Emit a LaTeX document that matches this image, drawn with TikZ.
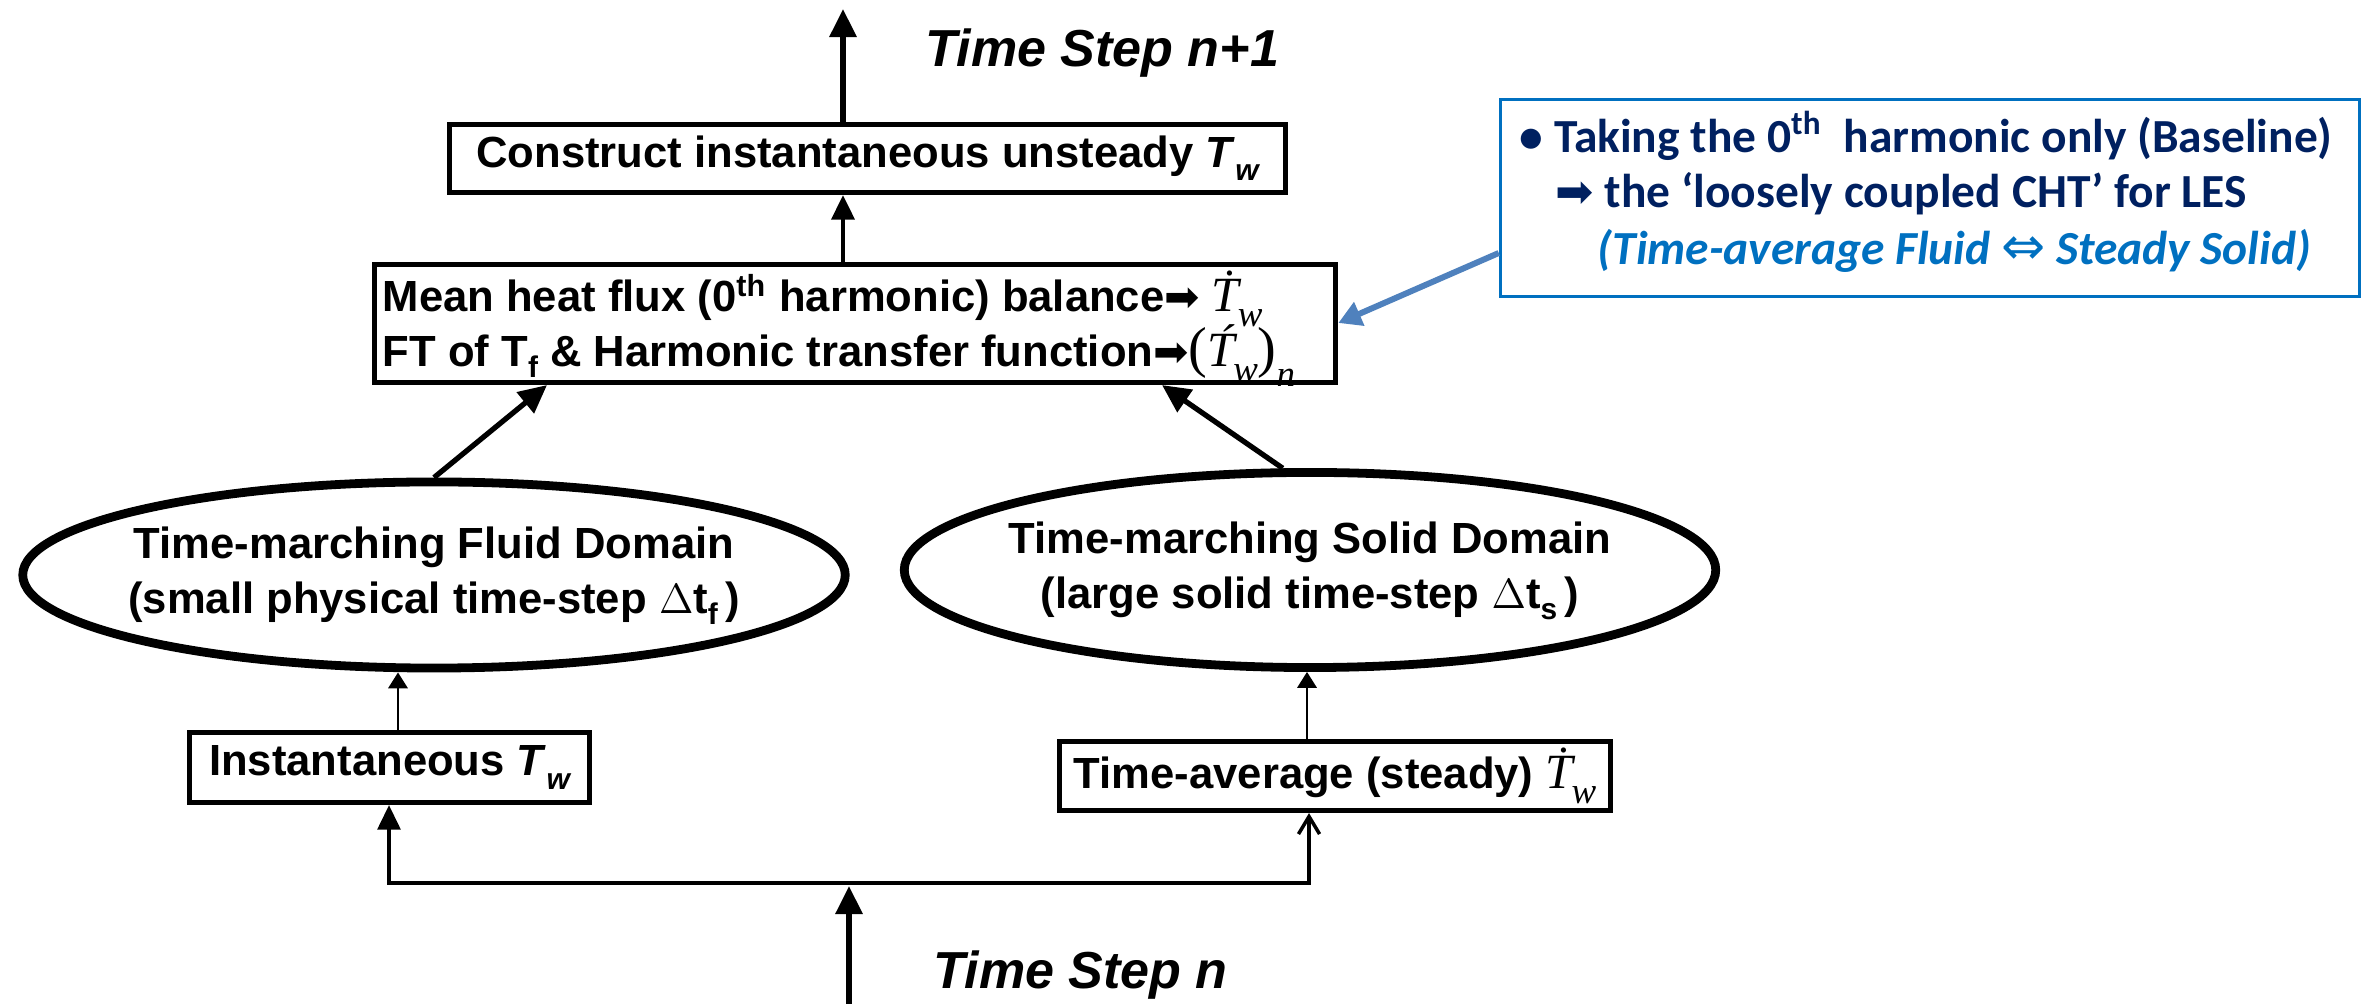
\documentclass[tikz,border=0pt]{standalone}
\usepackage{fontspec}
\setmainfont{Liberation Sans}
\newfontfamily\tnr{Liberation Serif}
\newfontfamily\calib{Carlito}
\newfontfamily\djv{DejaVu Sans}
\usetikzlibrary{arrows.meta,shapes.geometric}
\definecolor{navy}{HTML}{002060}
\definecolor{pblue}{HTML}{0070C0}
\definecolor{steel}{HTML}{4F81BD}
\newcommand\boxfont{\fontsize{12.4}{15.65}\selectfont\bfseries}
\newcommand\stepfont{\fontsize{14.8}{17}\selectfont\bfseries\itshape}
\newcommand\callfont{\fontsize{13.5}{16}\selectfont\calib\bfseries}
\newcommand\arrowglyph{{\djv\mdseries\upshape\fontsize{12}{12}\selectfont ➡}}
\newcommand\TwSans{\textit{T}\raisebox{-0.3em}{\fontsize{8.5}{8.5}\selectfont\itshape w}}
\newcommand\TwSerif[1]{{\tnr\itshape\mdseries\fontsize{14}{14}\selectfont #1\kern-0.03em\raisebox{-0.3em}{\fontsize{10.5}{10.5}\selectfont w}}}
\newcommand\subsans[1]{\raisebox{-0.25em}{\fontsize{8.5}{8.5}\selectfont #1}}
\newcommand\bigparen[1]{{\tnr\mdseries\upshape\fontsize{16}{16}\selectfont #1}}
\begin{document}
\begin{tikzpicture}[x=0.01cm,y=-0.01cm,
  box/.style={draw,rectangle,line width=1.45pt,inner sep=0pt,font=\boxfont},
  oval/.style={draw,ellipse,line width=2.5pt,inner sep=0pt,font=\boxfont},
  bigarr/.style={line width=1.5pt,-{Triangle[length=8pt,width=7.5pt]}},
  medarr/.style={line width=1.2pt,-{Triangle[length=7pt,width=6.5pt]}},
  thinarr/.style={line width=0.6pt,-{Triangle[length=4.5pt,width=5.5pt]}},
  connarr/.style={line width=1.0pt,-{Triangle[length=7pt,width=6.5pt]}},
  barbarr/.style={line width=1.0pt,-{Straight Barb[length=5pt,width=6pt]}},
  stepl/.style={font=\stepfont,anchor=base west,inner sep=0pt},
  txt/.style={font=\boxfont,anchor=base west,inner sep=0pt},
  ctxt/.style={font=\callfont,anchor=base west,inner sep=0pt}]

\useasboundingbox (0,0) rectangle (2364,1004);

% boxes
\node[box,minimum width=8.36cm,minimum height=0.68cm] (construct) at (867.5,158.5)
  {Construct instantaneous unsteady \TwSans};
\node[box,minimum width=9.61cm,minimum height=1.18cm] (mean) at (855,323.5) {};
\node[txt] (meanA) at (382,312)
  {Mean heat flux (0\textsuperscript{th} harmonic) balance\arrowglyph\ \TwSerif{\.{T}}};
\node[txt] (meanB) at (382,367)
  {FT of T\subsans{f} \& Harmonic transfer function\arrowglyph\bigparen{(}\TwSerif{\'{T}}\bigparen{)}\raisebox{-0.45em}{\tnr\itshape\mdseries\fontsize{10.5}{10.5}\selectfont n}};

\node[oval,minimum width=8.22cm,minimum height=1.86cm] (fluid) at (434,575)
  {\makebox[0pt]{\begin{tabular}{@{}c@{}}Time-marching Fluid Domain\\(small physical time-step $\Delta$t\subsans{f}\,)\end{tabular}}};
\node[oval,minimum width=8.11cm,minimum height=1.95cm] (solid) at (1310,570)
  {\makebox[0pt]{\begin{tabular}{@{}c@{}}Time-marching Solid Domain\\(large solid time-step $\Delta$t\subsans{s}\,)\end{tabular}}};

\node[box,minimum width=4.00cm,minimum height=0.70cm] (inst) at (389.5,767.5)
  {Instantaneous \TwSans};
\node[box,minimum width=5.51cm,minimum height=0.69cm] (tavg) at (1335,776)
  {Time-average (steady) \TwSerif{\.{T}}};

% callout
\node[draw=pblue,rectangle,line width=0.85pt,inner sep=0pt,minimum width=8.59cm,minimum height=1.97cm] (callout) at (1930,198) {};
\node[ctxt,text=navy] (callA) at (1519,153)
  {\textbullet\ Taking the 0\textsuperscript{th}\ \ harmonic only (Baseline)};
\node[ctxt,text=navy] (callB) at (1555,208)
  {{\djv\mdseries\fontsize{13}{13}\selectfont ➡}\ the ‘loosely coupled CHT’ for LES};
\node[ctxt,text=pblue] (callC) at (1597,265)
  {\itshape (Time-average Fluid {\djv\mdseries\upshape\fontsize{15}{15}\selectfont ⇔} Steady Solid)};

% step labels
\node[stepl] (stepnext) at (925,67) {Time Step n+1};
\node[stepl] (stepnow) at (933,988) {Time Step n};

% connectors
\coordinate (topend) at (843,9);
\coordinate (bottomstart) at (849,1004);
\coordinate (split) at (849,883);

\draw[bigarr] (843,0 |- construct.north) -- (topend);
\draw[medarr] (843,0 |- mean.north) -- (843,0 |- construct.south);
\draw[bigarr] (fluid.north) -- (547,0 |- mean.south);
\draw[bigarr] (solid.105) -- (1162,0 |- mean.south);
\draw[thinarr] (398,0 |- inst.north) -- (398,0 |- fluid.south);
\draw[thinarr] (1307,0 |- tavg.north) -- (1307,0 |- solid.south);
\draw[bigarr] (bottomstart) -- (849,886);
\draw[connarr] (split) -| (389,0 |- inst.south);
\draw[barbarr] (split) -| (1309,0 |- tavg.south);
\draw[steel,line width=1.7pt,-{Triangle[length=6.5pt,width=7pt]}] (callout.west |- 0,253) -- (mean.east |- 0,323);
\end{tikzpicture}
\end{document}
